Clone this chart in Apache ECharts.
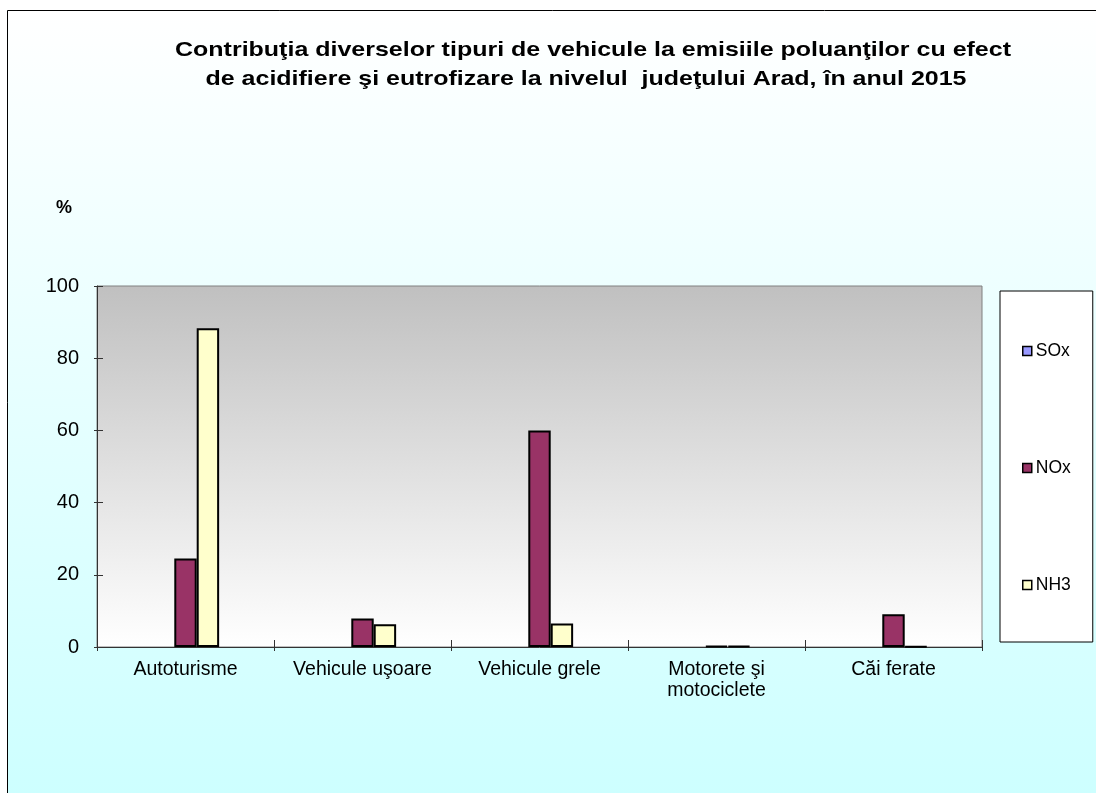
<!DOCTYPE html>
<html>
<head>
<meta charset="utf-8">
<script src="https://cdn.jsdelivr.net/npm/echarts@6/dist/echarts.min.js"></script>
<style>
html,body{margin:0;padding:0;background:#fff;}
#chart{width:1096px;height:793px;}
</style>
</head>
<body>
<div id="chart"></div>
<script>
// date
var categorii = ['Autoturisme', 'Vehicule uşoare', 'Vehicule grele', 'Motorete şi\nmotociclete', 'Căi ferate'];
var serii = ['SOx', 'NOx', 'NH3'];
var valSOx = [null, null, null, null, null];
var valNOx = [24.5, 7.9, 60, 0.3, 9.1];
var valNH3 = [88.3, 6.3, 6.5, 0.3, 0.2];
var yTicks = [0, 20, 40, 60, 80, 100];
var titluRand1 = 'Contribuţia diverselor tipuri de vehicule la emisiile poluanţilor cu efect';
var titluRand2 = 'de acidifiere şi eutrofizare la nivelul  judeţului Arad, în anul 2015';

var CULORI = {
	SOX: '#9999FF',
	NOX: '#993366',
	NH3: '#FFFFCC'
};
var FONT = 'Liberation Sans, Arial, sans-serif';

var myChart = echarts.init(document.getElementById('chart'), null, {renderer: 'canvas'});

function serie(nume, date, culoare){
	return {
		name: nume,
		type: 'bar',
		data: date,
		barGap: '0%',
		barCategoryGap: '62%',
		itemStyle: {
			color: culoare,
			borderColor: '#000',
			borderWidth: 2
		},
		emphasis: {disabled: true}
	};
}

function titlu(text, x, y){
	return {
		type: 'text',
		x: x,
		y: y,
		scaleX: 1.19,
		silent: true,
		style: {
			text: text,
			x: 0,
			y: 0,
			align: 'center',
			verticalAlign: 'middle',
			fill: '#000',
			font: 'bold 21px ' + FONT
		}
	};
}

myChart.setOption({
	animation: false,
	textStyle: {fontFamily: FONT},
	graphic: [{
		type: 'rect',
		z: -10,
		silent: true,
		shape: {x: 7.5, y: 10.5, width: 1100, height: 800},
		style: {
			fill: new echarts.graphic.LinearGradient(0, 0, 0, 1, [
				{offset: 0, color: '#FFFFFF'},
				{offset: 1, color: '#CCFFFF'}
			]),
			stroke: '#000',
			lineWidth: 1
		}
	},
	titlu(titluRand1, 593, 50),
	titlu(titluRand2, 586, 79)
	],
	title: {
		text: '%',
		left: 51,
		top: 194,
		textStyle: {fontSize: 18, fontWeight: 'bold', color: '#000', fontFamily: FONT}
	},
	legend: {
		orient: 'vertical',
		left: 1000,
		top: 291,
		data: serii,
		itemWidth: 9,
		itemHeight: 9,
		itemGap: 99,
		padding: [51, 22, 48, 22],
		backgroundColor: '#FFFFFF',
		borderColor: '#000',
		borderWidth: 1,
		icon: 'rect',
		selectedMode: false,
		itemStyle: {borderWidth: 1.5},
		textStyle: {fontSize: 17.5, color: '#000', padding: [0, 0, 0, -1]}
	},
	grid: {
		left: 97,
		right: 114,
		top: 286,
		bottom: 146,
		show: true,
		borderColor: '#808080',
		borderWidth: 1,
		backgroundColor: new echarts.graphic.LinearGradient(0, 0, 0, 1, [
			{offset: 0, color: '#C0C0C0'},
			{offset: 1, color: '#FFFFFF'}
		])
	},
	xAxis: [{
		type: 'category',
		data: categorii,
		axisLine: {lineStyle: {color: '#333', width: 1}},
		axisTick: {show: true, length: 4, lineStyle: {color: '#333'}},
		axisLabel: {fontSize: 19.5, color: '#000', margin: 12, lineHeight: 21, interval: 0}
	}, {
		// doar pentru liniuţele care trec peste axă
		type: 'category',
		position: 'bottom',
		data: categorii,
		axisLine: {show: false},
		axisTick: {show: true, inside: true, length: 7, lineStyle: {color: '#333'}},
		axisLabel: {show: false}
	}],
	yAxis: [{
		type: 'value',
		min: yTicks[0],
		max: yTicks[yTicks.length - 1],
		interval: 20,
		splitLine: {show: false},
		axisLine: {show: true, lineStyle: {color: '#333', width: 1}},
		axisTick: {show: true, length: 3, lineStyle: {color: '#333'}},
		axisLabel: {fontSize: 20, color: '#000', margin: 18}
	}, {
		type: 'value',
		position: 'left',
		min: yTicks[0],
		max: yTicks[yTicks.length - 1],
		interval: 20,
		splitLine: {show: false},
		axisLine: {show: false},
		axisTick: {show: true, inside: true, length: 6, lineStyle: {color: '#333'}},
		axisLabel: {show: false}
	}],
	series: [
		serie(serii[0], valSOx, CULORI.SOX),
		serie(serii[1], valNOx, CULORI.NOX),
		serie(serii[2], valNH3, CULORI.NH3)
	]
});
</script>
</body>
</html>
